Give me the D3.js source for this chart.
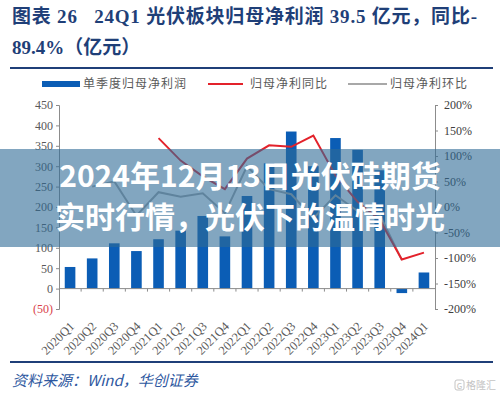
<!DOCTYPE html>
<html>
<head>
<meta charset="utf-8">
<script src="https://cdn.jsdelivr.net/npm/d3@7"></script>
<style>
  body { margin: 0; background: #fff; }
  svg { display: block; }
</style>
</head>
<body>
<div id="chart"></div>
<script>
var quarters = ["2020Q1", "2020Q2", "2020Q3", "2020Q4", "2021Q1", "2021Q2", "2021Q3", "2021Q4",
                "2022Q1", "2022Q2", "2022Q3", "2022Q4", "2023Q1", "2023Q2", "2023Q3", "2023Q4", "2024Q1"];
// 单季度归母净利润 (亿元)
var profit = [53, 74, 111, 92, 121, 142, 178, 128, 227, 307, 385, 300, 369, 340, 290, -11, 39.5];
// 归母净利同比 (%)
var yoy = [null, null, null, null, 135, 91, 60, 35, 95, 121, 118, 140, 62, 10, -25, -103, -89.4];
// 归母净利环比 (%)
var qoq = [null, 40, 50, -17, 29, 20, 27, -12, 80, 35, 25, -22, 23, -8, -15, -104, null];

var leftTicks = [-50, 0, 50, 100, 150, 200, 250, 300, 350, 400, 450];
var rightTicks = [-200, -150, -100, -50, 0, 50, 100, 150, 200];
var legendLabels = ["单季度归母净利润", "归母净利同比", "归母净利环比"];

var width = 500,
    height = 396,
    plotLeft = 59,
    plotRight = 435,
    plotTop = 105,
    plotBottom = 309,
    navy = "#1f3f78",
    barColor = "#0b5db5",
    redColor = "#e3222b",
    greyColor = "#a8a8a8",
    axisColor = "#8c8c8c",
    textColor = "#595959",
    serif = "'Liberation Serif', 'Times New Roman', 'Noto Sans CJK SC', serif",
    cjk = "'Noto Sans CJK SC', 'Liberation Serif', sans-serif";

var svg = d3.select("#chart").append("svg")
    .attr("width", width)
    .attr("height", height);

// title
var title = svg.append("text")
    .attr("fill", navy)
    .style("font-family", serif)
    .style("font-weight", "bold")
    .style("font-size", "19px")
    .style("white-space", "pre");
title.append("tspan")
    .attr("x", 12).attr("y", 23)
    .attr("textLength", 465).attr("lengthAdjust", "spacing")
    .text("图表 26   24Q1 光伏板块归母净利润 39.5 亿元，同比-");
title.append("tspan")
    .attr("x", 12).attr("y", 54)
    .text("89.4%（亿元）");

svg.append("line")
    .attr("x1", 10).attr("x2", 493)
    .attr("y1", 68).attr("y2", 68)
    .attr("stroke", navy).attr("stroke-width", 2);

// legend
var legend = svg.append("g").style("font-family", cjk).style("font-size", "12px");
legend.append("rect")
    .attr("x", 42).attr("y", 81).attr("width", 38).attr("height", 6)
    .attr("fill", barColor);
legend.append("line")
    .attr("x1", 208).attr("x2", 243).attr("y1", 84).attr("y2", 84)
    .attr("stroke", redColor).attr("stroke-width", 2);
legend.append("line")
    .attr("x1", 348).attr("x2", 387).attr("y1", 84).attr("y2", 84)
    .attr("stroke", greyColor).attr("stroke-width", 2);
legend.selectAll("text.leg")
    .data(legendLabels)
    .enter()
    .append("text")
    .attr("class", "leg")
    .attr("x", function(d, i) { return [83, 250, 390][i]; })
    .attr("y", 88)
    .attr("fill", textColor)
    .style("letter-spacing", "1px")
    .text(function(d) { return d; });

// scales
var xScale = d3.scaleBand()
    .domain(quarters)
    .range([plotLeft, plotRight])
    .paddingInner(0.52)
    .paddingOuter(0.26);

var yLeft = d3.scaleLinear().domain([-50, 450]).range([plotBottom, plotTop]);
var yRight = d3.scaleLinear().domain([-200, 200]).range([plotBottom, plotTop]);

// axes
var leftAxis = svg.append("g")
    .attr("transform", "translate(" + plotLeft + ",0)")
    .call(d3.axisLeft(yLeft)
        .tickValues(leftTicks)
        .tickSize(3)
        .tickPadding(3)
        .tickFormat(function(d) { return d < 0 ? "(" + (-d) + ")" : d; }));
leftAxis.selectAll("path, line").attr("stroke", axisColor);
leftAxis.selectAll("text")
    .style("font-family", serif)
    .style("font-size", "12px")
    .attr("fill", function(d) { return d < 0 ? "#d9434a" : textColor; });

var rightAxis = svg.append("g")
    .attr("transform", "translate(" + plotRight + ",0)")
    .call(d3.axisRight(yRight)
        .tickValues(rightTicks)
        .tickSize(3)
        .tickPadding(6)
        .tickFormat(function(d) { return d + "%"; }));
rightAxis.selectAll("path, line").attr("stroke", axisColor);
rightAxis.selectAll("text")
    .style("font-family", serif)
    .style("font-size", "12px")
    .attr("fill", "#404040");

// bars
svg.append("g").selectAll("rect")
    .data(profit)
    .enter()
    .append("rect")
    .attr("x", function(d, i) { return xScale(quarters[i]); })
    .attr("width", xScale.bandwidth())
    .attr("y", function(d) { return yLeft(Math.max(0, d)); })
    .attr("height", function(d) { return Math.abs(yLeft(d) - yLeft(0)); })
    .attr("fill", barColor);

// zero line with category ticks
var zero = yLeft(0);
svg.append("line")
    .attr("x1", plotLeft).attr("x2", plotRight)
    .attr("y1", zero).attr("y2", zero)
    .attr("stroke", axisColor).attr("stroke-width", 1);
svg.append("g").selectAll("line")
    .data(quarters.slice(1))
    .enter()
    .append("line")
    .attr("x1", function(d) { return xScale(d) - xScale.step() * xScale.paddingInner() / 2; })
    .attr("x2", function(d) { return xScale(d) - xScale.step() * xScale.paddingInner() / 2; })
    .attr("y1", zero).attr("y2", zero + 3)
    .attr("stroke", axisColor);

// lines
function center(i) { return xScale(quarters[i]) + xScale.bandwidth() / 2; }

var lineGen = d3.line()
    .defined(function(d) { return d != null; })
    .x(function(d, i) { return center(i); })
    .y(function(d) { return yRight(d); });

svg.append("path")
    .datum(qoq)
    .attr("d", lineGen)
    .attr("fill", "none")
    .attr("stroke", greyColor)
    .attr("stroke-width", 2);

svg.append("path")
    .datum(yoy)
    .attr("d", lineGen)
    .attr("fill", "none")
    .attr("stroke", redColor)
    .attr("stroke-width", 2);

// x labels
svg.append("g").selectAll("text")
    .data(quarters)
    .enter()
    .append("text")
    .attr("transform", function(d) {
        return "translate(" + (xScale(d) + xScale.bandwidth() / 2 + 5) + ",327) rotate(-45)";
    })
    .attr("text-anchor", "end")
    .attr("fill", textColor)
    .style("font-family", serif)
    .style("font-size", "12.5px")
    .text(function(d) { return d; });

svg.append("line")
    .attr("x1", 10).attr("x2", 493)
    .attr("y1", 362).attr("y2", 362)
    .attr("stroke", navy).attr("stroke-width", 2);

svg.append("text")
    .attr("x", 12).attr("y", 386)
    .attr("fill", "#2e58a0")
    .style("font-family", cjk)
    .style("font-style", "italic")
    .style("font-size", "15px")
    .text("资料来源：Wind，华创证券");

// watermark
svg.append("rect")
    .attr("x", 455).attr("y", 380).attr("width", 9).attr("height", 10)
    .attr("fill", "none").attr("stroke", "#c4c4c4").attr("rx", 2);
svg.append("text")
    .attr("x", 459.5).attr("y", 388.5)
    .attr("text-anchor", "middle")
    .attr("fill", "#c4c4c4")
    .style("font-family", cjk).style("font-size", "8px")
    .text("G");
svg.append("text")
    .attr("x", 466).attr("y", 389)
    .attr("fill", "#c4c4c4")
    .style("font-family", cjk).style("font-size", "10px")
    .text("格隆汇");

// overlay banner
svg.append("rect")
    .attr("x", 0).attr("y", 149)
    .attr("width", width).attr("height", 98)
    .attr("fill", "#2f6b96")
    .attr("fill-opacity", 0.6);

var banner = svg.append("text")
    .attr("text-anchor", "middle")
    .attr("fill", "#fff")
    .style("font-family", "'Noto Sans CJK SC', sans-serif")
    .style("font-weight", "bold")
    .style("font-size", "30px");
banner.append("tspan").attr("x", 250).attr("y", 187).text("2024年12月13日光伏硅期货");
banner.append("tspan").attr("x", 250).attr("y", 228).text("实时行情，光伏下的温情时光");
</script>
</body>
</html>
